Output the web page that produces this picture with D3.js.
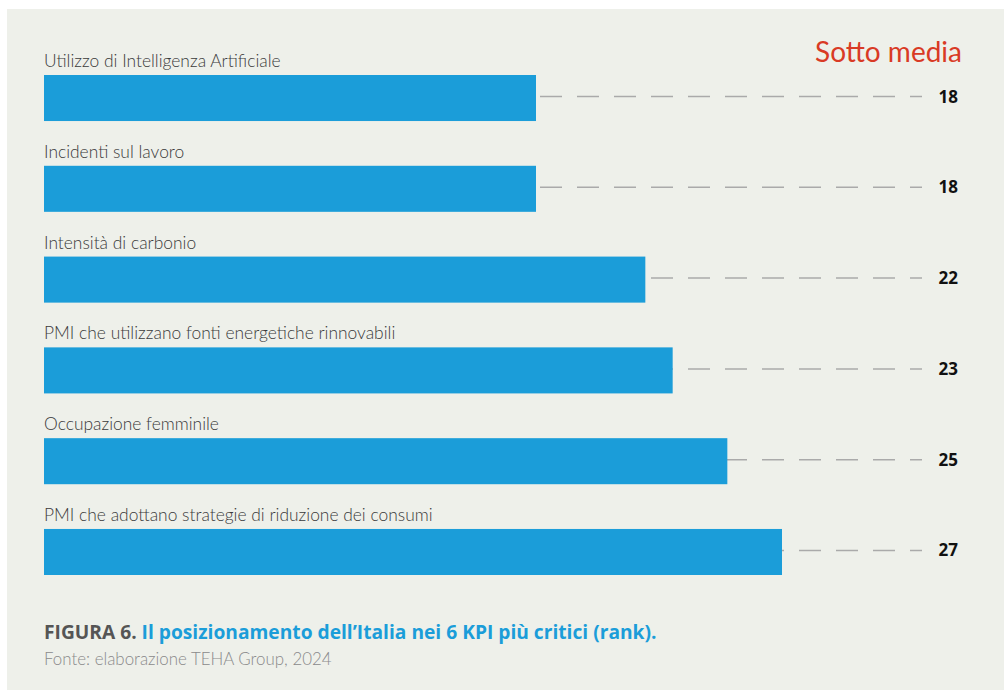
<!DOCTYPE html>
<html lang="it">
<head>
<meta charset="UTF-8">
<title>Figura 6</title>
<style>
  body { margin: 0; background: #fff; }
  svg { display: block; }
  .label { font-family: Lato, sans-serif; font-weight: 300; font-size: 17.4px; fill: #3a3a3a; }
  .rank { font-family: "Open Sans", sans-serif; font-weight: 700; font-size: 17px; fill: #111; }
  .badge { font-family: Lato, sans-serif; font-size: 28px; fill: #d93a25; }
  .cap-num { font-family: "Open Sans", sans-serif; font-weight: 700; font-size: 19.2px; fill: #555; }
  .cap-title { font-family: "Open Sans", sans-serif; font-weight: 700; font-size: 19.2px; fill: #1b9dd9; }
  .source { font-family: Lato, sans-serif; font-weight: 300; font-size: 16.9px; fill: #8a8a8a; }
</style>
</head>
<body>
<div id="chart"></div>
<script src="https://d3js.org/d3.v7.min.js"></script>
<script>
  // KPI names, top to bottom
  const kpis = [
    "Utilizzo di Intelligenza Artificiale",
    "Incidenti sul lavoro",
    "Intensità di carbonio",
    "PMI che utilizzano fonti energetiche rinnovabili",
    "Occupazione femminile",
    "PMI che adottano strategie di riduzione dei consumi"
  ];
  // rank of Italy for each KPI
  const ranks = [18, 18, 22, 23, 25, 27];

  const W = 1004, H = 690;
  const svg = d3.select("#chart").append("svg")
    .attr("width", W).attr("height", H);

  // grey panel
  svg.append("rect")
    .attr("x", 7).attr("y", 9)
    .attr("width", W - 7).attr("height", H - 9)
    .attr("fill", "#eef0ea");

  const x = d3.scaleLinear().domain([0, 27]).range([44, 782]);
  const y = d3.scaleBand().domain(kpis).range([75, 575]).paddingInner(0.493).paddingOuter(0);

  const rows = svg.selectAll(".row")
    .data(kpis.map((k, i) => ({ kpi: k, rank: ranks[i] })))
    .join("g").attr("class", "row");

  // dashed leader line, drawn under the bar
  rows.append("line")
    .attr("x1", x(0)).attr("x2", 922)
    .attr("y1", d => y(d.kpi) + y.bandwidth() / 2 - 1.5)
    .attr("y2", d => y(d.kpi) + y.bandwidth() / 2 - 1.5)
    .attr("stroke", "#aaa")
    .attr("stroke-width", 1.5)
    .attr("stroke-dasharray", "22,15")
    .attr("stroke-dashoffset", 22);

  rows.append("rect")
    .attr("x", x(0))
    .attr("y", d => y(d.kpi))
    .attr("width", d => x(d.rank) - x(0))
    .attr("height", y.bandwidth())
    .attr("fill", "#1b9dd9");

  rows.append("text")
    .attr("class", "label")
    .attr("x", x(0))
    .attr("y", d => y(d.kpi) - 8)
    .text(d => d.kpi);

  rows.append("text")
    .attr("class", "rank")
    .attr("x", 958)
    .attr("y", d => y(d.kpi) + y.bandwidth() / 2 + 4.5)
    .attr("text-anchor", "end")
    .text(d => d.rank);

  svg.append("text")
    .attr("class", "badge")
    .attr("x", 962).attr("y", 62)
    .attr("text-anchor", "end")
    .text("Sotto media");

  // caption
  const cap = svg.append("text").attr("x", 44).attr("y", 639);
  cap.append("tspan").attr("class", "cap-num").text("FIGURA 6. ");
  cap.append("tspan").attr("class", "cap-title")
    .text("Il posizionamento dell’Italia nei 6 KPI più critici (rank).");

  svg.append("text")
    .attr("class", "source")
    .attr("x", 44).attr("y", 665)
    .text("Fonte: elaborazione TEHA Group, 2024");
</script>
</body>
</html>
